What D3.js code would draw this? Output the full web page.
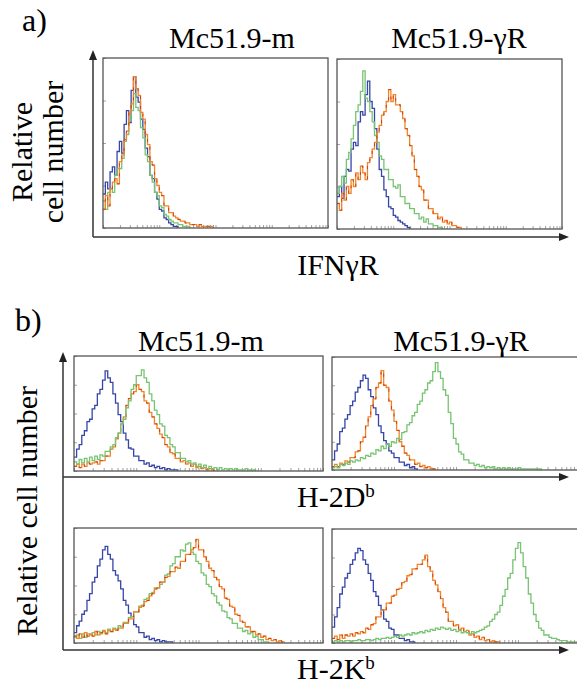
<!DOCTYPE html>
<html lang="en">
<head>
<meta charset="UTF-8">
<title>IFNγR / H-2 histograms</title>
<style>
  body { margin: 0; background: #fff; }
  svg { display: block; }
  text { font-family: 'Liberation Serif', 'Times New Roman', 'DejaVu Serif', serif; }
  .tk line { stroke: #8a8a8a; stroke-width: 0.8; }
  .tk path { display: none; }
</style>
</head>
<body>
<svg width="577" height="687"></svg>
<script src="https://d3js.org/d3.v7.min.js"></script>
<script>
// histogram heights, % of panel height, one value per channel bin (96 bins across a panel)
const ifngM_blue   = [20,27,23,33,36,31,45,51,44,61,69,62,81,89,77,74,64,58,47,42,31,29,21,17,11,10,6,5,3,2,1,1,0];
const ifngM_orange = [11,19,13,23,27,29,26,39,43,52,57,68,73,89,82,78,68,64,55,49,39,37,29,25,21,19,13,13,9,9,7,6,5,4,4,3,3,2,2,2,1,2,1,1,1,1,1,0];
const ifngM_green  = [16,11,21,23,21,31,35,35,41,51,55,63,69,79,71,69,59,53,43,39,31,27,21,19,13,12,8,7,5,4,3,3,2,2,1,1,1,0];

const ifngR_blue   = [19,25,18,31,35,34,47,51,49,63,69,67,79,87,75,71,59,47,35,31,23,19,13,12,8,7,5,4,3,2,1,0];
const ifngR_orange = [15,11,21,17,25,21,29,25,33,29,37,33,29,39,42,47,51,57,61,67,69,75,82,75,79,73,73,69,65,59,55,49,43,35,31,25,23,17,17,12,12,9,9,6,7,4,5,3,4,2,2,1,1,0];
const ifngR_green  = [21,25,31,27,41,45,53,61,69,73,81,93,77,75,69,63,55,51,43,41,35,35,29,29,25,24,26,19,19,15,15,12,12,9,9,6,7,4,6,3,3,2,2,1,1,0];

const dbM_blue   = [12,19,23,31,35,43,45,54,57,67,71,79,87,81,77,67,59,49,43,33,27,20,19,13,13,9,9,6,7,4,5,3,4,2,3,1,2,1,1,1,0];
const dbM_orange = [4,6,3,6,4,7,6,7,8,6,9,9,13,13,19,21,28,33,41,47,57,63,67,69,75,71,69,61,59,51,47,41,37,32,29,23,21,16,15,11,11,8,9,6,7,4,6,3,4,2,3,1,2,1,0];
const dbM_green  = [8,6,10,7,11,8,12,9,13,10,14,13,17,17,21,23,29,33,41,45,55,61,71,75,83,83,88,81,77,67,61,53,49,41,39,31,29,23,21,16,16,11,11,8,9,6,7,4,6,3,5,2,4,2,3,1,3,1,2,1,2,1,2,1,1,1,2,1,1,1,0];

const dbR_blue   = [9,17,23,34,37,45,49,57,61,69,73,79,84,81,71,65,55,49,39,33,26,23,17,15,11,11,7,7,4,5,2,3,1,0];
const dbR_orange = [3,5,3,6,5,8,7,11,11,16,17,25,29,39,47,57,63,73,77,88,75,73,61,53,43,35,25,21,15,13,9,9,5,6,3,4,2,3,1,1,0];
const dbR_green  = [2,3,2,5,4,6,5,8,7,9,8,11,10,13,12,15,14,18,17,21,19,23,21,25,24,28,27,33,34,40,42,48,51,58,61,68,71,77,79,87,95,87,81,71,66,51,41,28,23,16,14,9,9,6,6,4,5,3,4,2,3,2,3,1,2,1,2,1,2,1,1,1,2,1,1,1,1,1,1,1,1,0];

const kbM_blue   = [9,15,19,25,28,37,43,53,57,67,73,81,84,77,73,63,59,54,47,37,33,26,23,16,14,9,9,5,6,3,4,2,3,1,2,1,1,1,0];
const kbM_orange = [6,4,8,5,9,6,8,6,10,7,9,11,8,11,10,12,11,13,13,17,17,21,21,27,27,31,32,36,37,41,43,47,48,53,53,57,58,62,62,66,65,71,71,77,77,81,83,90,81,81,75,71,65,63,57,55,49,47,39,38,32,31,25,24,19,18,14,14,10,10,7,8,5,6,3,4,2,3,1,2,1,0];
const kbM_green  = [5,7,4,8,5,8,7,9,7,10,8,10,9,12,10,13,12,15,14,18,18,22,23,27,27,32,33,38,39,43,44,48,48,51,53,59,60,67,69,75,75,81,80,86,87,79,77,71,69,61,59,51,49,43,41,35,33,28,27,22,21,17,17,13,13,10,11,8,9,5,6,3,3,1,1,0];

const kbR_blue   = [14,23,31,43,49,57,61,69,73,79,83,81,73,69,61,55,45,41,33,29,21,19,13,12,7,7,4,4,2,3,1,1,0];
const kbR_orange = [4,6,3,7,4,7,6,8,6,9,8,10,9,13,12,16,17,23,23,29,29,35,35,41,42,47,48,53,54,59,60,65,65,69,69,73,77,67,63,55,51,45,39,31,27,19,19,15,16,12,13,10,11,7,8,5,6,3,5,2,3,1,2,1,1,0];
const kbR_green  = [1,2,1,2,1,2,2,1,2,2,3,2,2,3,3,2,3,4,3,4,4,5,4,5,6,5,7,6,7,8,7,9,8,9,10,9,11,10,12,11,13,12,14,13,12,13,11,12,10,11,9,10,9,8,10,9,10,11,12,14,15,19,21,25,27,33,41,47,57,61,73,83,88,79,67,57,43,35,25,19,13,11,7,7,5,4,4,3,2,2,2,1,1,1,1,1];

const NBINS = 96;
const colors = { blue: "#3545a8", green: "#78c472", orange: "#f08628", red: "#d23c1c" };

const svg = d3.select("svg");

// each panel: box position and its three histograms as [values, colour]
const panels = [
  { x0: 103, x1: 328, y0: 58,  y1: 228, data: [[ifngM_blue, "blue"], [ifngM_green, "green"], [ifngM_orange, "orange"]] },
  { x0: 337, x1: 562, y0: 59,  y1: 229, data: [[ifngR_blue, "blue"], [ifngR_green, "green"], [ifngR_orange, "orange"]] },
  { x0: 74,  x1: 323, y0: 356, y1: 471, data: [[dbM_blue, "blue"], [dbM_orange, "orange"], [dbM_green, "green"]] },
  { x0: 332, x1: 580, y0: 357, y1: 470, data: [[dbR_blue, "blue"], [dbR_orange, "orange"], [dbR_green, "green"]] },
  { x0: 74,  x1: 323, y0: 528, y1: 643, data: [[kbM_blue, "blue"], [kbM_green, "green"], [kbM_orange, "orange"]] },
  { x0: 332, x1: 580, y0: 529, y1: 643, data: [[kbR_blue, "blue"], [kbR_orange, "orange"], [kbR_green, "green"]] }
];

panels.forEach((p, pi) => {
  const g = svg.append("g");
  const x = d3.scaleLinear().domain([0, NBINS]).range([p.x0, p.x1]);
  const y = d3.scaleLinear().domain([0, 100]).range([p.y1, p.y0]);

  g.append("clipPath").attr("id", "clip" + pi)
    .append("rect").attr("x", p.x0).attr("y", p.y0 - 2)
    .attr("width", p.x1 - p.x0).attr("height", p.y1 - p.y0 + 2);

  // log channel ticks along the bottom, faint ticks on the left edge
  const lx = d3.scaleLog().domain([1, 1e4]).range([p.x0, p.x1]);
  g.append("g").attr("class", "tk").attr("transform", `translate(0,${p.y1})`)
    .call(d3.axisBottom(lx).tickSize(-3).tickFormat(""));
  const ly = d3.scaleLinear().domain([0, 4]).range([p.y1, p.y0]);
  g.append("g").attr("class", "tk").attr("transform", `translate(${p.x0},0)`)
    .call(d3.axisLeft(ly).ticks(4).tickSize(-3).tickFormat(""));

  const line = d3.line().x((d, i) => x(i)).y(d => y(d)).curve(d3.curveStepAfter);
  const cg = g.append("g").attr("clip-path", `url(#clip${pi})`);
  p.data.forEach(([arr, c]) => {
    cg.append("path").attr("d", line(arr)).attr("fill", "none")
      .attr("stroke", colors[c]).attr("stroke-width", 1.3);
    if (c === "orange") {
      cg.append("path").attr("d", line(arr)).attr("fill", "none")
        .attr("stroke", colors.red).attr("stroke-width", 1)
        .attr("stroke-dasharray", "3,7");
    }
  });

  g.append("rect").attr("x", p.x0).attr("y", p.y0)
    .attr("width", p.x1 - p.x0).attr("height", p.y1 - p.y0)
    .attr("fill", "none").attr("stroke", "#555").attr("stroke-width", 1.3);
});

// axes with arrow heads
function arrowLine(x1, y1, x2, y2) {
  svg.append("line").attr("x1", x1).attr("y1", y1).attr("x2", x2).attr("y2", y2)
    .attr("stroke", "#333").attr("stroke-width", 1.5);
}
function arrowHead(x, y, dir) {
  const pts = dir === "up" ? [[x, y], [x - 4, y + 10], [x + 4, y + 10]]
                           : [[x, y], [x - 10, y - 4], [x - 10, y + 4]];
  svg.append("path").attr("d", d3.line()(pts) + "Z").attr("fill", "#222");
}
arrowLine(93, 237, 93, 55); arrowHead(93, 50, "up");
arrowLine(93, 237, 563, 237); arrowHead(569, 237, "right");
arrowLine(63, 650, 63, 357); arrowHead(63, 352, "up");
arrowLine(63, 477, 563, 477); arrowHead(569, 477, "right");
arrowLine(63, 650, 563, 650); arrowHead(569, 650, "right");

// labels
function label(txt, x, y, size, anchor) {
  return svg.append("text").attr("x", x).attr("y", y).attr("font-size", size)
    .attr("text-anchor", anchor || "middle").attr("fill", "#000").text(txt);
}
label("a)", 22, 31, 32, "start");
label("Mc51.9-m", 232, 48, 30);
label("Mc51.9-γR", 459, 48, 30);
label("IFNγR", 338, 275, 30);
label("b)", 15, 331, 32, "start");
label("Mc51.9-m", 201, 351, 30);
label("Mc51.9-γR", 461, 351, 30);

svg.append("text").attr("transform", "translate(32,152) rotate(-90)")
  .attr("text-anchor", "middle").attr("font-size", 30).attr("fill", "#000").text("Relative");
svg.append("text").attr("transform", "translate(63,152) rotate(-90)")
  .attr("text-anchor", "middle").attr("font-size", 30).attr("fill", "#000").text("cell number");
svg.append("text").attr("transform", "translate(37,511) rotate(-90)")
  .attr("text-anchor", "middle").attr("font-size", 30).attr("fill", "#000").text("Relative cell number");

[["H-2D", 507], ["H-2K", 679]].forEach(([t, yy]) => {
  const tx = label(t, 297, yy, 30, "start");
  tx.append("tspan").attr("font-size", 19).attr("dy", -10).text("b");
});
</script>
</body>
</html>
